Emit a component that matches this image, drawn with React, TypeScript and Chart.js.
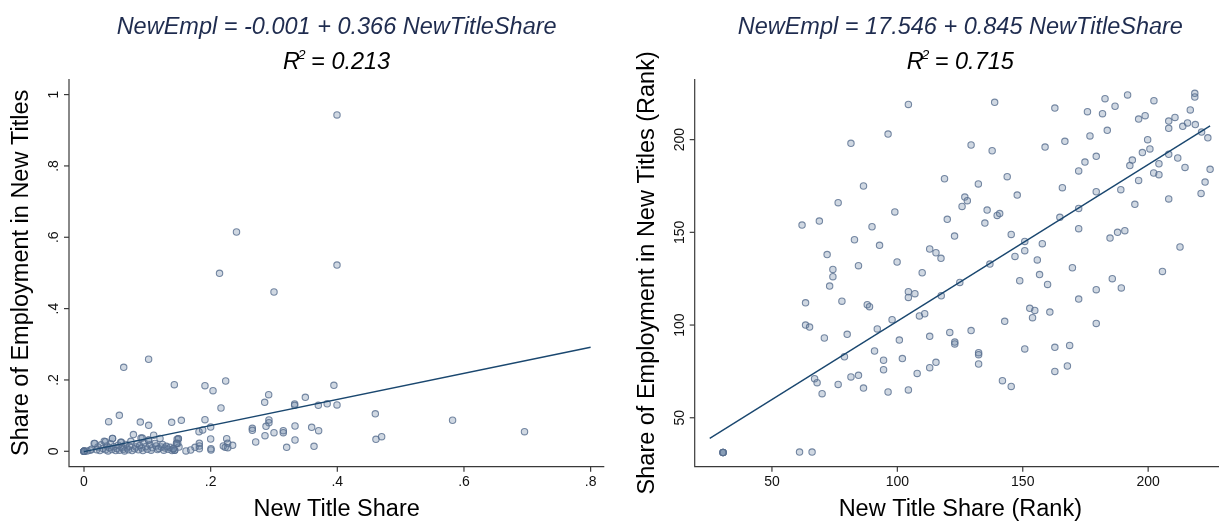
import React, { useEffect, useRef } from "react";
import { Chart, registerables } from "chart.js";

Chart.register(...registerables);

// ---- Left panel: shares ----
const shareXTicks = [0, 0.2, 0.4, 0.6, 0.8];
const shareXTickLabels = ["0", ".2", ".4", ".6", ".8"];
const shareYTicks = [0, 0.2, 0.4, 0.6, 0.8, 1];
const shareYTickLabels = ["0", ".2", ".4", ".6", ".8", "1"];
const shareFit = { intercept: -0.001, slope: 0.366, from: 0, to: 0.8 };
const shareEquation = "NewEmpl = -0.001 + 0.366 NewTitleShare";
const shareR2 = "0.213";

// occupations: [new title share, share of employment in new titles]
const sharePoints: [number, number][] = [
  [0, 0], [0, 0], [0, 0], [0, 0], [0, 0], [0, 0], [0.005, 0.001], [0.01, 0.003],
  [0.012, 0.006], [0.016, 0.022], [0.02, 0.004], [0.022, 0.012], [0.025, 0.002], [0.027, 0.018],
  [0.03, 0.008], [0.032, 0.028], [0.034, 0.004], [0.036, 0.015], [0.038, 0.001], [0.04, 0.01],
  [0.042, 0.021], [0.044, 0.005], [0.045, 0.036], [0.047, 0.013], [0.05, 0.002], [0.052, 0.008],
  [0.054, 0.017], [0.056, 0.003], [0.058, 0.025], [0.06, 0.011], [0.062, 0.006], [0.064, 0.001],
  [0.066, 0.019], [0.068, 0.009], [0.07, 0.004], [0.072, 0.014], [0.074, 0.028], [0.076, 0.002],
  [0.078, 0.047], [0.08, 0.007], [0.082, 0.012], [0.084, 0.021], [0.086, 0.004], [0.088, 0.016],
  [0.09, 0.037], [0.091, 0.009], [0.093, 0.002], [0.095, 0.024], [0.097, 0.013], [0.1, 0.006],
  [0.102, 0.032], [0.104, 0.018], [0.106, 0.003], [0.108, 0.01], [0.11, 0.045], [0.112, 0.022],
  [0.114, 0.015], [0.116, 0.005], [0.118, 0.008], [0.12, 0.036], [0.122, 0.012], [0.124, 0.019],
  [0.126, 0.003], [0.128, 0.009], [0.13, 0.014], [0.133, 0.006], [0.136, 0.011], [0.139, 0.002],
  [0.141, 0.007], [0.143, 0.003], [0.146, 0.022], [0.149, 0.035], [0.15, 0.012],
  [0.017, 0.022], [0.034, 0.027], [0.045, 0.036], [0.059, 0.025], [0.092, 0.037], [0.102, 0.031],
  [0.148, 0.022], [0.147, 0.034],
  [0.3995, 0.943], [0.2408, 0.6148], [0.3995, 0.522], [0.214, 0.499], [0.3, 0.4466],
  [0.102, 0.258], [0.0627, 0.2355],
  [0.1426, 0.1868], [0.191, 0.184], [0.2237, 0.197], [0.2037, 0.17], [0.2163, 0.1214],
  [0.0558, 0.1008], [0.0389, 0.083], [0.0889, 0.082], [0.1021, 0.0728], [0.1384, 0.0812],
  [0.1537, 0.0868], [0.191, 0.0886], [0.2, 0.068], [0.1816, 0.055], [0.1874, 0.0597],
  [0.2853, 0.1372], [0.2916, 0.1587], [0.3326, 0.1326], [0.3326, 0.1288], [0.3495, 0.1513],
  [0.37, 0.129], [0.292, 0.0877], [0.292, 0.0802], [0.2874, 0.07], [0.2658, 0.0643],
  [0.2658, 0.0587], [0.3, 0.0522], [0.3147, 0.0578], [0.3147, 0.0522], [0.3332, 0.0709],
  [0.3595, 0.0671], [0.3705, 0.0578], [0.2858, 0.0438], [0.2711, 0.026], [0.32, 0.0111],
  [0.3332, 0.0316], [0.3632, 0.0139], [0.2253, 0.0354], [0.2268, 0.0223], [0.22, 0.0148],
  [0.223, 0.011], [0.227, 0.01], [0.2347, 0.0167], [0.2, 0.0344], [0.2005, 0.0073],
  [0.2005, 0.0036], [0.1821, 0.0223], [0.1821, 0.0148], [0.1821, 0.0073], [0.1684, 0.0036],
  [0.161, 0.001], [0.1753, 0.011], [0.1489, 0.0354], [0.1463, 0.0223], [0.1432, 0.0027],
  [0.1411, 0.0073],
  [0.3946, 0.185], [0.384, 0.133], [0.3995, 0.13], [0.46, 0.105], [0.582, 0.087],
  [0.6956, 0.055], [0.461, 0.0336], [0.47, 0.041],
];

// ---- Right panel: ranks ----
const rankXTicks = [50, 100, 150, 200];
const rankXTickLabels = ["50", "100", "150", "200"];
const rankYTicks = [50, 100, 150, 200];
const rankYTickLabels = ["50", "100", "150", "200"];
const rankFit = { intercept: 17.546, slope: 0.845, from: 25.2, to: 224.7 };
const rankEquation = "NewEmpl = 17.546 + 0.845 NewTitleShare";
const rankR2 = "0.715";

// occupations: [rank of new title share, rank of employment share in new titles]
const rankPoints: [number, number][] = [
  [104.4, 219.0], [96.3, 203.0], [81.5, 198.0], [118.8, 178.9], [86.5, 175.0], [76.4, 166.0],
  [99.0, 161.0], [119.9, 157.0], [62.0, 153.9], [68.9, 156.1], [89.9, 153.0], [122.8, 148.0],
  [82.9, 146.0], [92.9, 143.0], [72.0, 138.0], [112.9, 141.0], [115.4, 139.0], [117.4, 136.0],
  [74.3, 130.0], [84.5, 132.0], [99.9, 134.0], [109.9, 128.2],
  [218.6, 225.0], [218.6, 223.0], [191.8, 224.1], [182.8, 222.1], [202.3, 221.0], [138.8, 220.1],
  [162.8, 217.0], [186.8, 218.0], [175.8, 215.1], [181.8, 214.0], [216.8, 216.0], [196.2, 211.1],
  [198.8, 212.9], [208.2, 210.0], [210.7, 212.0], [208.2, 206.1], [213.8, 207.2], [215.7, 209.0],
  [218.8, 208.1], [183.7, 205.0], [221.3, 204.1], [223.8, 201.0], [176.8, 202.0], [129.4, 197.1],
  [137.8, 194.0], [158.9, 196.0], [166.8, 199.1], [199.8, 200.0], [200.7, 195.0], [197.7, 193.0],
  [208.2, 192.1], [211.8, 190.1], [193.7, 189.0], [192.7, 186.0], [204.3, 187.0], [214.7, 185.0],
  [224.7, 184.0], [179.3, 191.0], [174.8, 187.9], [172.3, 183.1], [202.2, 182.0], [204.3, 181.1],
  [143.8, 180.0], [132.3, 176.1], [196.2, 178.0], [222.7, 177.1], [165.8, 174.1], [189.1, 173.0],
  [221.1, 171.0], [179.3, 171.9], [147.8, 170.1], [126.9, 169.0], [127.9, 167.1], [125.8, 164.0],
  [208.2, 168.0], [194.7, 165.1], [172.3, 162.9], [135.8, 162.0], [139.8, 159.1], [140.8, 160.1],
  [134.9, 155.0], [164.8, 158.1], [172.3, 152.0], [184.8, 146.9], [187.8, 150.0], [190.7, 150.9],
  [145.4, 148.9], [150.8, 145.1], [157.8, 143.9], [146.9, 137.0], [150.8, 140.1], [136.9, 132.9],
  [155.8, 135.1], [169.8, 130.9], [156.7, 127.2], [205.7, 128.9], [212.7, 142.1],
  [74.3, 126.1], [73.0, 121.0], [63.4, 112.0], [77.9, 112.9], [88.0, 111.0], [88.9, 109.9],
  [104.4, 118.0], [104.4, 114.9], [107.0, 116.9], [117.5, 115.8], [108.8, 104.9], [110.9, 106.1],
  [97.9, 102.9], [63.4, 100.0], [65.0, 98.9], [70.9, 93.0], [80.0, 95.0], [92.0, 97.9],
  [100.8, 91.9], [112.9, 93.9], [90.9, 86.0], [78.9, 82.9], [94.5, 81.0], [102.0, 81.9],
  [94.5, 75.9], [115.4, 79.9], [112.9, 77.0], [107.9, 73.9], [67.0, 71.1], [68.0, 68.9],
  [81.5, 72.0], [84.5, 72.9], [76.4, 68.0], [86.5, 66.0], [70.0, 63.0], [96.3, 63.9],
  [104.4, 65.0], [30.5, 31.3], [30.5, 31.3], [30.5, 31.3], [30.5, 31.3], [61.0, 31.5], [66.0, 31.5],
  [124.9, 123.0], [148.8, 123.9], [159.9, 121.9], [185.7, 125.0], [189.3, 120.0], [179.3, 119.1],
  [172.3, 114.0], [152.8, 109.0], [154.8, 107.9], [153.9, 104.0], [160.8, 107.0], [142.8, 102.0],
  [179.3, 100.9], [120.9, 96.0], [129.4, 97.0], [122.9, 90.8], [122.9, 89.8], [132.4, 85.1],
  [132.4, 84.0], [132.4, 79.0], [150.8, 87.1], [162.8, 88.0], [168.7, 89.0], [167.8, 77.9],
  [162.8, 75.0], [141.9, 70.0], [145.4, 66.9],
];

const FONT = '"Liberation Sans", Arial, Helvetica, sans-serif';
const AXIS_COLOR = "#3a3a3a";
const EQ_COLOR = "#1f2c4f";
const FIT_COLOR = "#1a476f";

type PanelSpec = {
  canvasLeft: number;
  canvasWidth: number;
  padding: { left: number; right: number; top: number; bottom: number };
  xRange: [number, number];
  yRange: [number, number];
  xTicks: number[];
  xTickLabels: string[];
  yTicks: number[];
  yTickLabels: string[];
  points: [number, number][];
  fit: { intercept: number; slope: number; from: number; to: number };
  equation: string;
  r2: string;
  xTitle: string;
  yTitle: string;
};

function framePlugin(spec: PanelSpec) {
  return {
    id: "stataFrame",
    beforeDatasetsDraw(chart: any) {
      const { ctx, chartArea: a, scales } = chart;
      const xs = scales.x;
      const ys = scales.y;
      ctx.save();

      // axis lines
      ctx.strokeStyle = AXIS_COLOR;
      ctx.lineWidth = 1.2;
      ctx.beginPath();
      ctx.moveTo(a.left, a.top);
      ctx.lineTo(a.left, a.bottom);
      ctx.lineTo(a.right, a.bottom);
      ctx.stroke();

      // tick marks and labels
      ctx.fillStyle = "#111";
      ctx.font = `14px ${FONT}`;
      spec.xTicks.forEach((v, i) => {
        const px = xs.getPixelForValue(v);
        ctx.beginPath();
        ctx.moveTo(px, a.bottom);
        ctx.lineTo(px, a.bottom + 5);
        ctx.stroke();
        ctx.textAlign = "center";
        ctx.textBaseline = "alphabetic";
        ctx.fillText(spec.xTickLabels[i], px, a.bottom + 19.5);
      });
      spec.yTicks.forEach((v, i) => {
        const py = ys.getPixelForValue(v);
        ctx.beginPath();
        ctx.moveTo(a.left - 5, py);
        ctx.lineTo(a.left, py);
        ctx.stroke();
        ctx.save();
        ctx.translate(a.left - 11, py);
        ctx.rotate(-Math.PI / 2);
        ctx.textAlign = "center";
        ctx.textBaseline = "alphabetic";
        ctx.fillText(spec.yTickLabels[i], 0, 0);
        ctx.restore();
      });

      // axis titles
      ctx.font = `23.5px ${FONT}`;
      ctx.fillStyle = "#000";
      ctx.textAlign = "center";
      ctx.textBaseline = "alphabetic";
      ctx.fillText(spec.xTitle, (a.left + a.right) / 2, a.bottom + 49.3);
      ctx.save();
      ctx.translate(a.left - 41, (a.top + a.bottom) / 2);
      ctx.rotate(-Math.PI / 2);
      ctx.fillText(spec.yTitle, 0, 0);
      ctx.restore();

      // regression equation and R-squared
      const cx = (a.left + a.right) / 2;
      ctx.font = `italic 23.5px ${FONT}`;
      ctx.fillStyle = EQ_COLOR;
      ctx.fillText(spec.equation, cx, 34);

      ctx.fillStyle = "#000";
      ctx.textAlign = "left";
      const big = `italic 23.5px ${FONT}`;
      const small = `italic 13.5px ${FONT}`;
      ctx.font = big;
      const wR = ctx.measureText("R").width;
      const rest = " = " + spec.r2;
      const wRest = ctx.measureText(rest).width;
      ctx.font = small;
      const wSup = ctx.measureText("2").width;
      const total = wR + wSup - 3 + wRest;
      const x0 = cx - total / 2;
      ctx.font = big;
      ctx.fillText("R", x0, 69);
      ctx.font = small;
      ctx.fillText("2", x0 + wR - 2, 58.5);
      ctx.font = big;
      ctx.fillText(rest, x0 + wR + wSup - 3, 69);

      ctx.restore();
    },
  };
}

function Panel({ spec }: { spec: PanelSpec }) {
  const ref = useRef<HTMLCanvasElement | null>(null);

  useEffect(() => {
    if (!ref.current) return;
    const fitData = [
      { x: spec.fit.from, y: spec.fit.intercept + spec.fit.slope * spec.fit.from },
      { x: spec.fit.to, y: spec.fit.intercept + spec.fit.slope * spec.fit.to },
    ];
    const chart = new Chart(ref.current, {
      type: "scatter",
      data: {
        datasets: [
          {
            type: "line",
            label: "Fitted values",
            data: fitData,
            borderColor: FIT_COLOR,
            borderWidth: 1.4,
            pointRadius: 0,
            showLine: true,
            fill: false,
          } as any,
          {
            label: "Occupations",
            data: spec.points.map(([x, y]) => ({ x, y })),
            pointRadius: 3.2,
            pointBorderWidth: 1.1,
            backgroundColor: "rgba(100,125,158,0.3)",
            borderColor: "rgba(88,110,142,0.8)",
          },
        ],
      },
      options: {
        responsive: false,
        animation: false,
        devicePixelRatio: 1,
        layout: { padding: spec.padding },
        plugins: {
          legend: { display: false },
          tooltip: { enabled: false },
          title: { display: false },
        },
        scales: {
          x: { type: "linear", display: false, min: spec.xRange[0], max: spec.xRange[1] },
          y: { type: "linear", display: false, min: spec.yRange[0], max: spec.yRange[1] },
        },
      },
      plugins: [framePlugin(spec)],
    });
    return () => chart.destroy();
  }, [spec]);

  return (
    <canvas
      ref={ref}
      width={spec.canvasWidth}
      height={521}
      style={{
        position: "absolute",
        left: spec.canvasLeft,
        top: 0,
        width: spec.canvasWidth,
        height: 521,
      }}
    />
  );
}

const sharePanel: PanelSpec = {
  canvasLeft: 0,
  canvasWidth: 610,
  padding: { left: 69, right: 5.7, top: 79, bottom: 54.3 },
  xRange: [-0.0237, 0.8216],
  yRange: [-0.0432, 1.0437],
  xTicks: shareXTicks,
  xTickLabels: shareXTickLabels,
  yTicks: shareYTicks,
  yTickLabels: shareYTickLabels,
  points: sharePoints,
  fit: shareFit,
  equation: shareEquation,
  r2: shareR2,
  xTitle: "New Title Share",
  yTitle: "Share of Employment in New Titles",
};

const rankPanel: PanelSpec = {
  canvasLeft: 610,
  canvasWidth: 621,
  padding: { left: 84.7, right: 0, top: 79, bottom: 54.3 },
  xRange: [19.2, 231.0],
  yRange: [23.6, 232.7],
  xTicks: rankXTicks,
  xTickLabels: rankXTickLabels,
  yTicks: rankYTicks,
  yTickLabels: rankYTickLabels,
  points: rankPoints,
  fit: rankFit,
  equation: rankEquation,
  r2: rankR2,
  xTitle: "New Title Share (Rank)",
  yTitle: "Share of Employment in New Titles (Rank)",
};

export default function App() {
  return (
    <div
      style={{
        position: "fixed",
        left: 0,
        top: 0,
        width: 1219,
        height: 521,
        overflow: "hidden",
        background: "#fff",
      }}
    >
      <Panel spec={sharePanel} />
      <Panel spec={rankPanel} />
    </div>
  );
}
